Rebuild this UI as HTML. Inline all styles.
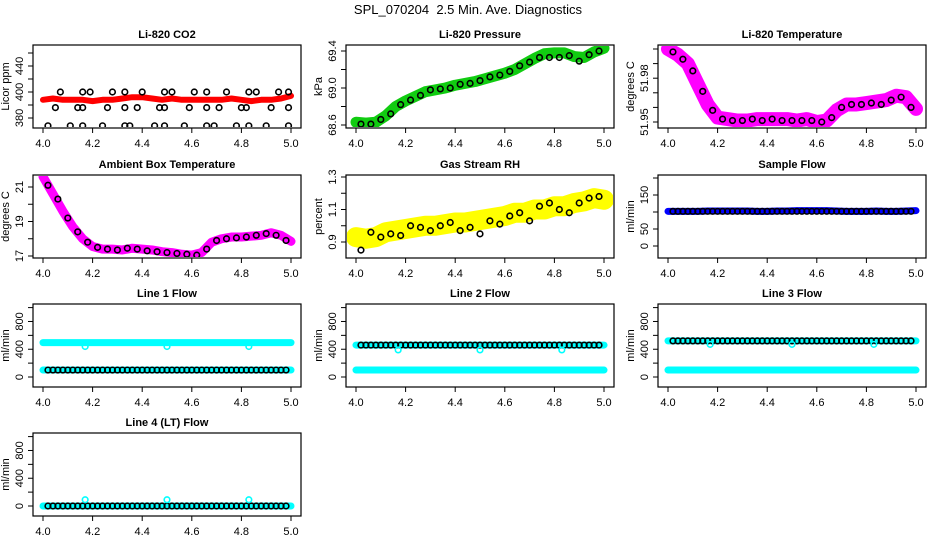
<!DOCTYPE html>
<html><head><meta charset="utf-8"><style>
html,body{margin:0;padding:0;background:#fff;}
svg{display:block;font-family:"Liberation Sans",sans-serif;}
</style></head><body>
<svg id="fig" width="936" height="540" viewBox="0 0 936 540">
<text x="468" y="14" text-anchor="middle" font-size="13">SPL_070204&#160; 2.5 Min. Ave. Diagnostics</text>
</svg>
<script>
// ---- data ----
const T26 = [4.00,4.04,4.08,4.12,4.16,4.20,4.24,4.28,4.32,4.36,4.40,4.44,4.48,4.52,4.56,4.60,4.64,4.68,4.72,4.76,4.80,4.84,4.88,4.92,4.96,5.00];
const TC = [4.02,4.06,4.10,4.14,4.18,4.22,4.26,4.30,4.34,4.38,4.42,4.46,4.50,4.54,4.58,4.62,4.66,4.70,4.74,4.78,4.82,4.86,4.90,4.94,4.98];
const TF = [4.02,4.04,4.06,4.08,4.10,4.12,4.14,4.16,4.18,4.20,4.22,4.24,4.26,4.28,4.30,4.32,4.34,4.36,4.38,4.40,4.42,4.44,4.46,4.48,4.50,4.52,4.54,4.56,4.58,4.60,4.62,4.64,4.66,4.68,4.70,4.72,4.74,4.76,4.78,4.80,4.82,4.84,4.86,4.88,4.90,4.92,4.94,4.96,4.98];
const xTicks = [4.0,4.2,4.4,4.6,4.8,5.0];
const xTickLabels = ["4.0","4.2","4.4","4.6","4.8","5.0"];

const co2Band = [394,395,394,394,394,393,394,394,395,396,396,395,394,395,394,394,394,394,394,395,394,393,394,394,395,397];
const co2PtT = [4.09,4.16,4.21,4.30,4.33,4.42,4.49,4.55,4.65,4.66,4.76,4.83,4.88,4.97,4.99,
 4.07,4.16,4.19,4.28,4.33,4.40,4.49,4.52,4.61,4.66,4.74,4.83,4.86,4.95,4.99,
 4.05,4.14,4.16,4.26,4.33,4.38,4.47,4.49,4.59,4.66,4.71,4.80,4.82,4.92,4.99,
 4.02,4.11,4.16,4.24,4.33,4.35,4.45,4.49,4.57,4.66,4.69,4.78,4.83,4.90,4.99];
const co2PtV = [441,441,441,441,441,441,441,441,441,441,441,441,441,441,441,
 400,400,400,400,400,400,400,400,400,400,400,400,400,400,400,
 388,388,388,388,388,388,388,388,388,388,388,388,388,388,388,
 374,374,374,374,374,374,374,374,374,374,374,374,374,374,374];

const presBand = [68.63,68.62,68.63,68.70,68.80,68.86,68.91,68.96,68.98,69.00,69.03,69.05,69.07,69.10,69.13,69.16,69.20,69.26,69.32,69.37,69.38,69.38,69.34,69.33,69.39,69.43];
const presPts = [68.61,68.61,68.66,68.72,68.82,68.87,68.92,68.98,68.99,69.00,69.04,69.05,69.08,69.12,69.14,69.18,69.24,69.28,69.33,69.33,69.33,69.35,69.29,69.36,69.40];

const ltBand = [52.000,51.996,51.990,51.976,51.962,51.953,51.952,51.951,51.951,51.952,51.952,51.952,51.952,51.951,51.952,51.950,51.951,51.958,51.962,51.962,51.963,51.964,51.965,51.968,51.967,51.959];
const ltPts = [51.998,51.993,51.985,51.971,51.958,51.952,51.951,51.951,51.952,51.951,51.952,51.951,51.951,51.951,51.951,51.950,51.953,51.960,51.962,51.962,51.963,51.962,51.965,51.967,51.960];

const ambBand = [21.6,20.6,19.6,18.7,18.0,17.55,17.4,17.4,17.35,17.45,17.4,17.35,17.25,17.2,17.1,17.05,17.2,17.8,18.0,18.1,18.1,18.15,18.2,18.35,18.2,17.85];
const ambPts = [21.1,20.3,19.2,18.4,17.8,17.5,17.4,17.35,17.45,17.4,17.3,17.25,17.2,17.15,17.1,17.05,17.4,17.9,18.0,18.05,18.1,18.2,18.3,18.2,17.9];

const rhBand = [0.93,0.92,0.93,0.96,0.97,0.98,0.99,1.00,1.00,1.01,1.02,1.02,1.03,1.04,1.05,1.06,1.08,1.08,1.10,1.10,1.12,1.12,1.14,1.15,1.17,1.16];
const rhPts = [0.85,0.96,0.93,0.95,0.94,1.00,0.99,0.97,1.00,1.02,0.97,0.99,0.95,1.03,1.01,1.06,1.08,1.03,1.12,1.14,1.10,1.08,1.14,1.17,1.18];

const sfBand = [102,102,102,102,103,103,103,103,103,102,102,103,103,104,104,104,104,103,102,102,102,103,102,102,103,104];
const sfLevel = 102;
const l1High = 495, l1Low = 100, l2High = 460, l2Low = 100, l3High = 520, l3Low = 100, l4Base = 0;
const outT = [4.17,4.50,4.83];
const l1Out = [440,440,440], l2Out = [390,390,390], l3Out = [470,470,470], l4Out = [90,90,90];

// ---- layout ----
const NS = "http://www.w3.org/2000/svg";
const svg = document.getElementById('fig');
const colX = [0,313,625], rowY = [45,175,304,433];
const BW = 268, BH = 83;
function mk(tag, attrs, parent){ const e=document.createElementNS(NS,tag); for(const k in attrs) e.setAttribute(k,attrs[k]); (parent||svg).appendChild(e); return e; }

function panel(cfg){
  const g = mk('g',{});
  
  
  const L = colX[cfg.col]+33, T = rowY[cfg.row];
  const xs = v => L + 10 + (v-4)*248;
  const ys = v => T + cfg.p0 + (v-cfg.v0)*(cfg.p1-cfg.p0)/(cfg.v1-cfg.v0);
  const title = mk('text',{x:L+BW/2,y:T-7,'text-anchor':'middle','font-size':11,'font-weight':'bold'},g);
  title.textContent = cfg.title;
  
  
  const box = mk('rect',{x:L,y:T,width:BW,height:BH,fill:'none',stroke:'#000','stroke-width':1.2},g);
  
  
  xTicks.forEach((v,i)=>{
    mk('line',{x1:xs(v),x2:xs(v),y1:T+BH,y2:T+BH+5,stroke:'#000'},g);
    const t = mk('text',{x:xs(v),y:T+BH+19,'text-anchor':'middle','font-size':11},g);
    t.textContent = xTickLabels[i];
    
    
  });
  cfg.yTicks.forEach((v,i)=>{
    const y = ys(v);
    mk('line',{x1:L-5,x2:L,y1:y,y2:y,stroke:'#000'},g);
    if(cfg.yLabels[i]){
      const t = mk('text',{x:0,y:0,'text-anchor':'middle','font-size':11,transform:`translate(${L-10},${y}) rotate(-90)`},g);
      t.textContent = cfg.yLabels[i];
      
      
    }
  });
  const yt = mk('text',{x:0,y:0,'text-anchor':'middle','font-size':11,transform:`translate(${L-24},${T+BH/2}) rotate(-90)`},g);
  yt.textContent = cfg.ylab;
  
  
  const clip = 'c'+cfg.name;
  const cp = mk('clipPath',{id:clip},g); mk('rect',{x:L+1,y:T+1,width:BW-2,height:BH-2},cp);
  const dg = mk('g',{'clip-path':`url(#${clip})`},g);
  (cfg.bands||[]).forEach(b=>{
    const pts = b.t.map((t,i)=>xs(t)+','+ys(b.v[i])).join(' ');
    const pl = mk('polyline',{points:pts,fill:'none',stroke:b.color,'stroke-width':b.w,'stroke-linecap':'round','stroke-linejoin':'round'},dg);
    
    
  });
  (cfg.points||[]).forEach(p=>{
    p.t.forEach((t,i)=>{
      const c = mk('circle',{cx:xs(t),cy:ys(p.v[i]),r:2.8,fill:'none',stroke:p.color,'stroke-width':1.6},dg);
      
      
    });
  });
}
const cst = (n,v)=>Array(n).fill(v);
const flowTicks=[0,200,400,600,800,1000], flowLabels=["0","","400","","800",""];

panel({name:'co2-panel',col:0,row:0,title:'Li-820 CO2',ylab:'Licor ppm',v0:380,p0:73,v1:400,p1:47,
  yTicks:[380,390,400,410,420,430],yLabels:["380","","400","","440",""],
  bands:[{t:T26,v:co2Band,color:'#f00',w:6}],points:[{t:co2PtT,v:co2PtV,color:'#000'}]});
panel({name:'pressure-panel',col:1,row:0,title:'Li-820 Pressure',ylab:'kPa',v0:68.6,p0:80,v1:69.4,p1:6,
  yTicks:[68.6,68.8,69.0,69.2,69.4],yLabels:["68.6","","69.0","","69.4"],
  bands:[{t:T26,v:presBand,color:'#1c1',w:11}],points:[{t:TC,v:presPts,color:'#000'}]});
panel({name:'licor-temp-panel',col:2,row:0,title:'Li-820 Temperature',ylab:'degrees C',v0:51.95,p0:77,v1:52.00,p1:4,
  yTicks:[51.95,51.96,51.97,51.98,51.99,52.00],yLabels:["51.95","","","51.98","",""],
  bands:[{t:T26,v:ltBand,color:'#f0f',w:14}],points:[{t:TC,v:ltPts,color:'#000'}]});
panel({name:'ambient-temp-panel',col:0,row:1,title:'Ambient Box Temperature',ylab:'degrees C',v0:17,p0:81,v1:21,p1:12,
  yTicks:[17,18,19,20,21],yLabels:["17","","19","","21"],
  bands:[{t:T26,v:ambBand,color:'#f0f',w:9}],points:[{t:TC,v:ambPts,color:'#000'}]});
panel({name:'rh-panel',col:1,row:1,title:'Gas Stream RH',ylab:'percent',v0:0.9,p0:67,v1:1.3,p1:2,
  yTicks:[0.9,1.0,1.1,1.2,1.3],yLabels:["0.9","","1.1","","1.3"],
  bands:[{t:T26,v:rhBand,color:'#ff0',w:20}],points:[{t:TC,v:rhPts,color:'#000'}]});
panel({name:'sample-flow-panel',col:2,row:1,title:'Sample Flow',ylab:'ml/min',v0:0,p0:71,v1:200,p1:3,
  yTicks:[0,50,100,150,200],yLabels:["0","50","","150",""],
  bands:[{t:T26,v:sfBand,color:'#00f',w:7}],points:[{t:TF,v:cst(TF.length,sfLevel),color:'#000'}]});
panel({name:'line1-flow-panel',col:0,row:2,title:'Line 1 Flow',ylab:'ml/min',v0:0,p0:73,v1:1000,p1:3.6,
  yTicks:flowTicks,yLabels:flowLabels,
  bands:[{t:T26,v:cst(26,l1High),color:'#0ff',w:7},{t:T26,v:cst(26,l1Low),color:'#0ff',w:7}],
  points:[{t:TF,v:cst(TF.length,l1Low),color:'#000'},{t:outT,v:l1Out,color:'#0ff'}]});
panel({name:'line2-flow-panel',col:1,row:2,title:'Line 2 Flow',ylab:'ml/min',v0:0,p0:73,v1:1000,p1:3.6,
  yTicks:flowTicks,yLabels:flowLabels,
  bands:[{t:T26,v:cst(26,l2High),color:'#0ff',w:7},{t:T26,v:cst(26,l2Low),color:'#0ff',w:7}],
  points:[{t:TF,v:cst(TF.length,l2High),color:'#000'},{t:outT,v:l2Out,color:'#0ff'}]});
panel({name:'line3-flow-panel',col:2,row:2,title:'Line 3 Flow',ylab:'ml/min',v0:0,p0:73,v1:1000,p1:3.6,
  yTicks:flowTicks,yLabels:flowLabels,
  bands:[{t:T26,v:cst(26,l3High),color:'#0ff',w:7},{t:T26,v:cst(26,l3Low),color:'#0ff',w:7}],
  points:[{t:TF,v:cst(TF.length,l3High),color:'#000'},{t:outT,v:l3Out,color:'#0ff'}]});
panel({name:'line4-flow-panel',col:0,row:3,title:'Line 4 (LT) Flow',ylab:'ml/min',v0:0,p0:73,v1:1000,p1:3.6,
  yTicks:flowTicks,yLabels:flowLabels,
  bands:[{t:T26,v:cst(26,l4Base),color:'#0ff',w:7}],
  points:[{t:TF,v:cst(TF.length,l4Base),color:'#000'},{t:outT,v:l4Out,color:'#0ff'}]});
</script>
</body></html>
